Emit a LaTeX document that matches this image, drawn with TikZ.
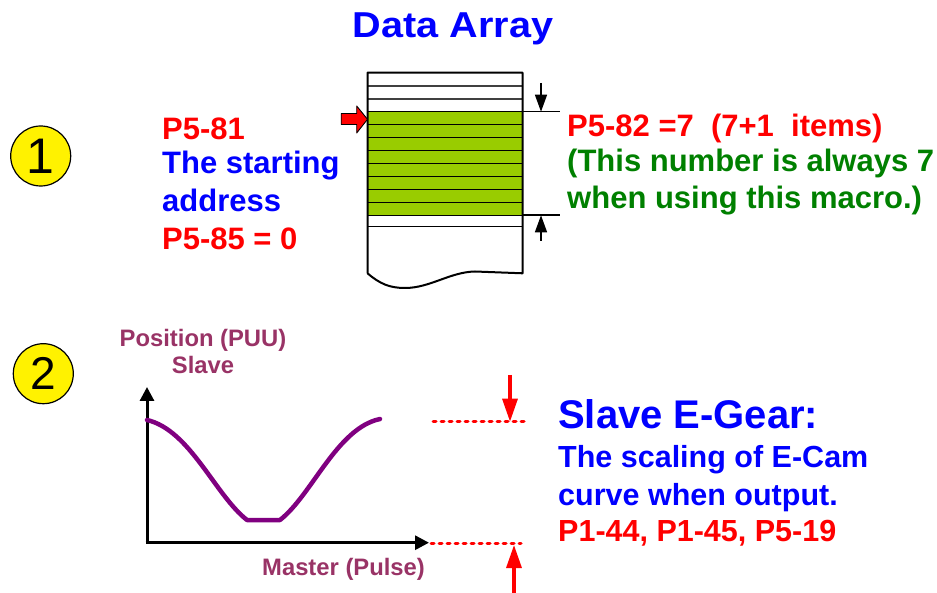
\documentclass[tikz,border=0pt]{standalone}
\usepackage{fontspec}
\usepackage{graphicx}
\setmainfont{Liberation Sans}
\usetikzlibrary{arrows.meta}
\definecolor{cgreen}{RGB}{153,204,0}
\definecolor{tgreen}{RGB}{0,128,0}
\definecolor{tblue}{RGB}{0,0,255}
\definecolor{tred}{RGB}{255,0,0}
\definecolor{tpurple}{RGB}{153,51,102}
\definecolor{cpurple}{RGB}{128,0,128}
\begin{document}
\begin{tikzpicture}[x=1pt,y=-1pt,
  txt/.style={anchor=base west, inner sep=0pt, font=\bfseries\fontsize{31}{37}\selectfont},
  ptxt/.style={anchor=base, inner sep=0pt, text=tpurple, font=\bfseries\fontsize{23.8}{28}\selectfont},
  badge/.style={circle, draw=black, line width=1.2pt, fill=yellow, minimum size=60pt, inner sep=0pt},
  cell/.style={line width=1.5pt},
  thinarrow/.style={line width=1.5pt, -{Triangle[length=17pt,width=12pt]}},
  redarrow/.style={draw=tred, line width=3.2pt, -{Triangle[length=23pt,width=15pt]}},
  reddash/.style={draw=tred, line width=3pt, line cap=round, dash pattern=on 3pt off 5pt},
  axis/.style={line width=3pt, -{Triangle[length=14pt,width=14pt]}}
]
\useasboundingbox (0,0) rectangle (937,593);

% badges
\node[badge, font=\fontsize{50}{50}\selectfont] (b1) at (40.7,156) {1};
\node[badge, font=\fontsize{46}{46}\selectfont] (b2) at (43.3,373.7) {2};

% title
\node[anchor=base, inner sep=0pt, text=tblue, font=\bfseries\fontsize{36}{40}\selectfont] (title) at (453,38) {\scalebox{1.1}[1]{Data Array}};

% data array
\fill[cgreen] (367.5,111.7) rectangle (522.5,215.3);
\foreach \yy in {86,99}{\draw[cell, draw=black!75] (367.5,\yy) -- (522.5,\yy);}
\foreach \yy in {111.7,124.3,137.3,150.3,163.3,176.3,189.3,202.3,215.3}{\draw[cell] (367.5,\yy) -- (522.5,\yy);}
\draw[cell] (367.5,226.7) -- (522.5,226.7);
\draw[line width=2pt, line join=round]
  (367.5,273.3) -- (367.5,72.7) -- (522.5,72.7) -- (522.5,273.3)
  -- (475,271.5) .. controls (450,272) and (430,288) .. (405,288)
  .. controls (390,288) and (380,284) .. (367.5,273.3);

% red pointer arrow
\filldraw[fill=tred, draw=black, line width=0.9pt, line join=round]
  (341.2,113.5) -- (356.7,113.5) -- (356.7,106) -- (367.5,119.3) -- (356.7,133) -- (356.7,124.5) -- (341.2,124.5) -- cycle;

% range markers
\coordinate (r1a) at (522.5,111.7); \coordinate (r1b) at (560,111.7);
\coordinate (r2a) at (522.5,215.3); \coordinate (r2b) at (560,215.3);
\draw[line width=1.6pt] (r1a) -- (r1b);
\draw[line width=1.6pt] (r2a) -- (r2b);
\coordinate (a1s) at (541,83); \coordinate (a1e) at (541,111.7);
\coordinate (a2s) at (541,241); \coordinate (a2e) at (541,215.3);
\draw[thinarrow] (a1s) -- (a1e);
\draw[thinarrow] (a2s) -- (a2e);

% left texts
\node[txt, text=tred] (p581) at (162,139.3) {P5-81};
\node[txt, text=tblue] (start) at (162,174) {The starting};
\node[txt, text=tblue] (addr) at (162,211.7) {address};
\node[txt, text=tred] (p585) at (162,250) {P5-85 = 0};

% right texts
\node[txt, text=tred] (p582) at (567,136.7) {P5-82 =7\ \ (7+1\ \ items)};
\node[txt, text=tgreen] (g1) at (567,171.7) {(This number is always 7};
\node[txt, text=tgreen] (g2) at (567,208.3) {when using this macro.)};

% graph
\coordinate (O) at (147,542.7);
\coordinate (ytop) at (147,387);
\coordinate (xend) at (429,542.7);
\draw[axis] ([yshift=1.5pt]O) -- (ytop);
\draw[axis] ([xshift=-1.5pt]O) -- (xend);
\draw[cpurple, line width=4.5pt, line join=round, line cap=round]
  (147,420) .. controls (190,430) and (215,495) .. (247,520)
  -- (280,520) .. controls (312,495) and (337,428) .. (380,419);

\node[ptxt] (pos) at (203,346.7) {Position (PUU)};
\node[ptxt] (slv) at (203,373.3) {Slave};
\node[ptxt, anchor=base west] (mst) at (262,575) {Master (Pulse)};

% red scale markers
\coordinate (d1a) at (433,421.7); \coordinate (d1b) at (525,421.7);
\coordinate (d2a) at (431,543.3); \coordinate (d2b) at (521,543.3);
\draw[reddash] (d1a) -- (d1b);
\draw[reddash] (d2a) -- (d2b);
\coordinate (ra1) at (510,375); \coordinate (ra1e) at (510,421.7);
\coordinate (ra2) at (514,593); \coordinate (ra2e) at (514,545);
\draw[redarrow] (ra1) -- (ra1e);
\draw[redarrow] (ra2) -- (ra2e);

% slave e-gear texts
\node[txt, text=tblue, font=\bfseries\fontsize{40}{46}\selectfont] (seg) at (558,428.3) {Slave E-Gear:};
\node[txt, text=tblue, font=\bfseries\fontsize{30.5}{36}\selectfont] (sc1) at (558,467.3) {The scaling of E-Cam};
\node[txt, text=tblue, font=\bfseries\fontsize{30.5}{36}\selectfont] (sc2) at (558,505) {curve when output.};
\node[txt, text=tred, font=\bfseries\fontsize{30.5}{36}\selectfont] (sc3) at (558,541.7) {P1-44, P1-45, P5-19};
\end{tikzpicture}
\end{document}
